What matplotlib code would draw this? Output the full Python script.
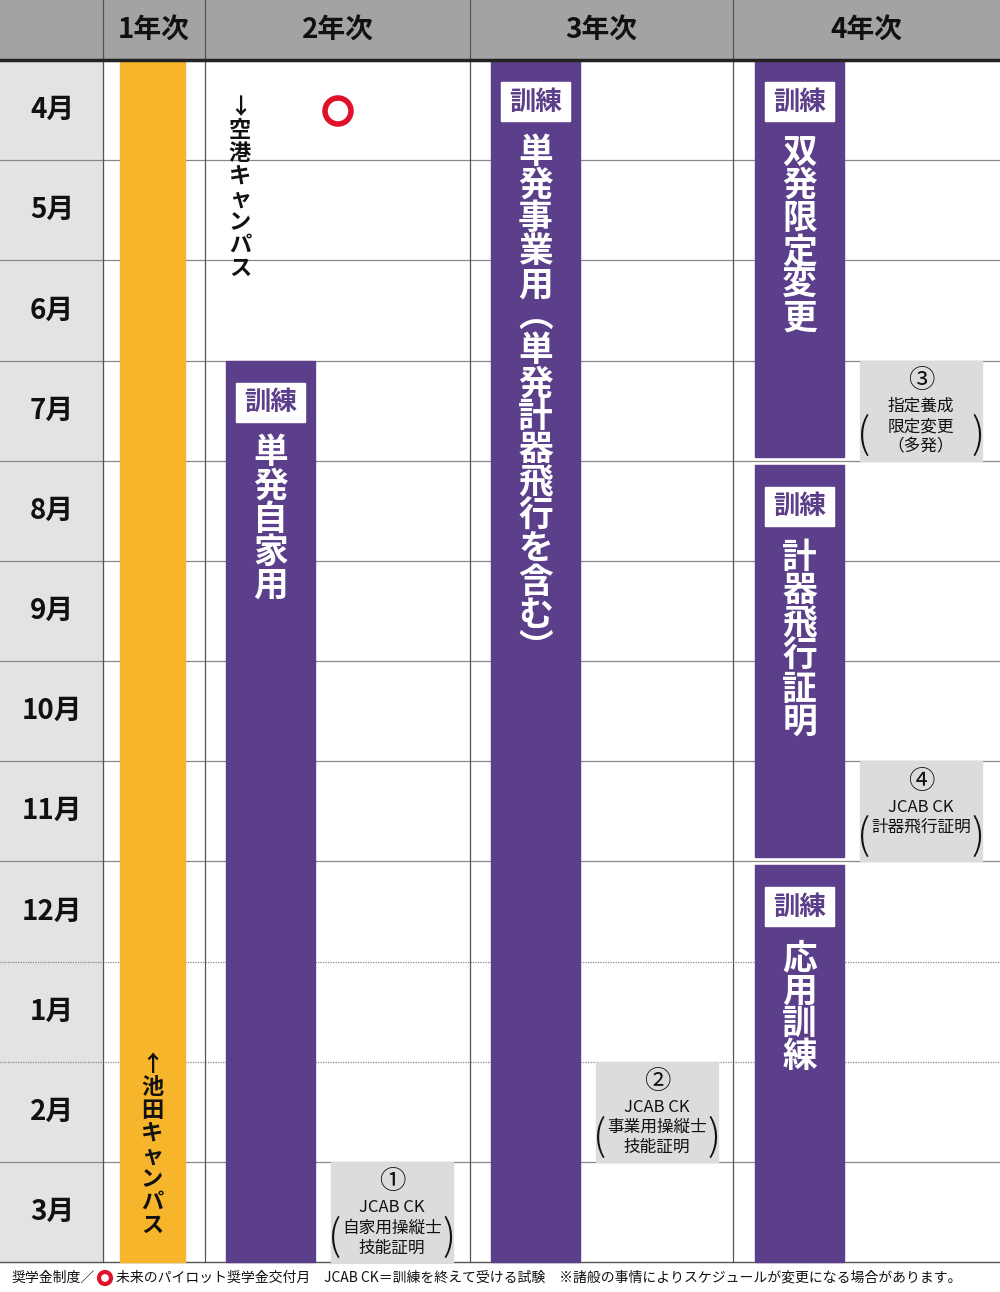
import matplotlib
matplotlib.use('Agg')
import matplotlib.pyplot as plt
from matplotlib.patches import Rectangle, Circle

plt.rcParams['font.family'] = 'Noto Sans CJK JP'

# data
years = ['1年次', '2年次', '3年次', '4年次']
months = ['4月', '5月', '6月', '7月', '8月', '9月', '10月', '11月', '12月', '1月', '2月', '3月']
col_edges = [0, 103, 205, 470, 733, 1000]

# (年次 index, start month index, end month index, label)
training = [
    (1, 3, 12, '単発自家用'),
    (2, 0, 12, '単発事業用︵単発計器飛行を含む︶'),
    (3, 0, 4, '双発限定変更'),
    (3, 4, 8, '計器飛行証明'),
    (3, 8, 12, '応用訓練'),
]
# (年次 index, month index, number, lines)
exams = [
    (1, 11, '①', ['JCAB CK', '自家用操縦士', '技能証明']),
    (2, 10, '②', ['JCAB CK', '事業用操縦士', '技能証明']),
    (3, 3, '③', ['指定養成', '限定変更', '（多発）']),
    (3, 7, '④', ['JCAB CK', '計器飛行証明']),
]

PURPLE = '#5c3f8b'
ORANGE = '#f7b52b'
TOP, BOT = 60, 1262
RH = (BOT - TOP) / len(months)


def ry(i):
    return TOP + i * RH


def vert(s):
    return '\n'.join(s)


fig = plt.figure(figsize=(10, 12.92), dpi=100)
ax = fig.add_axes([0, 0, 1, 1])
ax.set_xlim(0, 1000)
ax.set_ylim(1292, 0)
ax.axis('off')

# header
ax.add_patch(Rectangle((0, 0), 1000, TOP, color='#a3a3a3', zorder=0))
ax.plot([0, 1000], [TOP, TOP], color='#222', lw=2.5, zorder=3)
for k, name in enumerate(years):
    cx = (col_edges[k + 1] + col_edges[k + 2]) / 2
    ax.text(cx, 31, name, ha='center', va='center', fontsize=20, fontweight='bold', color='#111')

# month column
ax.add_patch(Rectangle((0, TOP), col_edges[1], BOT - TOP, color='#e3e3e3', zorder=0))
for i, m in enumerate(months):
    ax.text(52, ry(i) + RH / 2, m, ha='center', va='center', fontsize=20, fontweight='bold', color='#111')
    if i > 0:
        ax.plot([0, 1000], [ry(i), ry(i)], color='#888', lw=0.9,
                ls=(0, (1, 1)) if i in (9, 10) else '-', zorder=1)
for x in col_edges[1:-1]:
    ax.plot([x, x], [0, BOT], color='#555', lw=0.9, zorder=1)
ax.plot([0, 1000], [BOT, BOT], color='#555', lw=1, zorder=1)

# 1年次 campus bar
ax.add_patch(Rectangle((120, TOP), 65, BOT - TOP, color=ORANGE, zorder=2))
ax.text(152, 1145, vert('↑池田キャンパス'), ha='center', va='center', fontsize=16,
        fontweight='bold', linespacing=1.0, color='#111', zorder=3)
ax.text(240, 188, vert('↓空港キャンパス'), ha='center', va='center', fontsize=16,
        fontweight='bold', linespacing=1.0, color='#111', zorder=3)
ax.add_patch(Circle((338, 111), 13, fill=False, ec='#e0112b', lw=4, zorder=3))

# training bars
bar_x = {1: 226, 2: 491, 3: 755}
for col, s, e, label in training:
    y0 = ry(s) + (4 if col == 3 and s > 0 else 0)
    y1 = ry(e) - (4 if col == 3 and e < 12 else 0)
    x0 = bar_x[col]
    ax.add_patch(Rectangle((x0, y0), 89, y1 - y0, color=PURPLE, zorder=2))
    ax.add_patch(Rectangle((x0 + 10, y0 + 22), 69, 39, color='white', zorder=3))
    ax.text(x0 + 44.5, y0 + 42, '訓練', ha='center', va='center', fontsize=19,
            fontweight='bold', color=PURPLE, zorder=4)
    ax.text(x0 + 44.5, y0 + 75, vert(label), ha='center', va='top', fontsize=25,
            fontweight='bold', linespacing=0.93, color='white', zorder=4)

# exam boxes
exam_x = {1: 331, 2: 596, 3: 860}
for col, m, num, lines in exams:
    x0 = exam_x[col]
    y0 = ry(m)
    ax.add_patch(Rectangle((x0, y0), 122, RH, color='#dcdcdc', zorder=2))
    cx = x0 + 61
    ax.text(cx, y0 + 20, num, ha='center', va='center', fontsize=19, color='#111', zorder=3)
    for j, t in enumerate(lines):
        ax.text(cx, y0 + 46 + j * 20, t, ha='center', va='center', fontsize=12, color='#111', zorder=3)
    py = y0 + 46 + (len(lines) - 1) * 20 - 10 if len(lines) == 3 else y0 + 76
    ax.text(x0 + 4, py, '(', ha='center', va='center', fontsize=30, fontweight='light', color='#111', zorder=3)
    ax.text(x0 + 118, py, ')', ha='center', va='center', fontsize=30, fontweight='light', color='#111', zorder=3)

# footer
ax.text(12, 1278, '奨学金制度／', ha='left', va='center', fontsize=10, color='#111')
ax.add_patch(Circle((105, 1278), 6, fill=False, ec='#e0112b', lw=3))
ax.text(116, 1278, '未来のパイロット奨学金交付月　JCAB CK＝訓練を終えて受ける試験　※諸般の事情によりスケジュールが変更になる場合があります。',
        ha='left', va='center', fontsize=10, color='#111')

fig.savefig('out.png', dpi=100)
